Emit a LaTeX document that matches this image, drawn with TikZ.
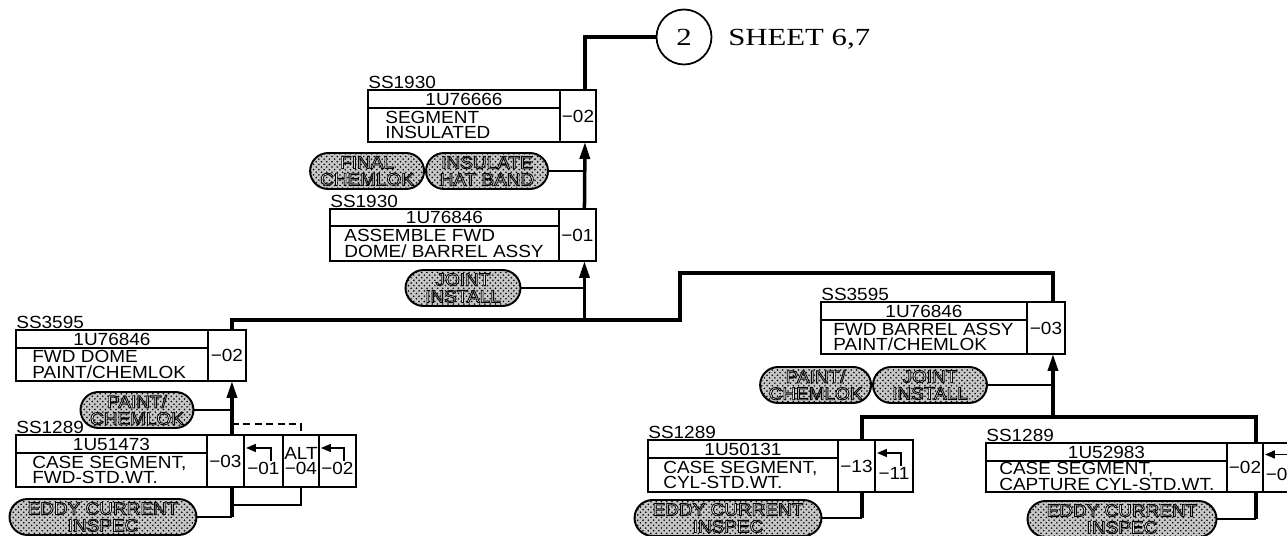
\documentclass[tikz,border=0pt]{standalone}
\usepackage{fontspec}
\setmainfont{Liberation Serif}
\setsansfont{Liberation Sans}
\newfontfamily\sheetfont{Liberation Serif}[FakeStretch=1.25]
\newfontfamily\boxfont{Liberation Sans}[FakeStretch=1.08]
\usepackage{tikz}
\usetikzlibrary{arrows.meta,positioning,shapes.misc,patterns,calc}

\newcommand{\hollowtext}[1]{\special{pdf:literal direct 2 Tr 0.5 w 0 G 1 g}#1\special{pdf:literal direct 0 Tr 0 g}}

\begin{document}
\begin{tikzpicture}[
  x=0.02cm, y=-0.02cm,
  node distance=0pt,
  pnrow/.style={rectangle, draw, line width=1.1pt, outer sep=0pt, inner sep=0pt, anchor=north west, minimum height=0.36cm, font=\boxfont\fontsize{10}{10}\selectfont},
  descrow/.style={rectangle, draw, line width=1.1pt, outer sep=0pt, inner sep=0pt, minimum height=0.68cm},
  desctext/.style={anchor=west, align=left, inner sep=0pt, font=\boxfont\fontsize{10}{8.7}\selectfont},
  numcell/.style={rectangle, draw, line width=1.1pt, outer sep=0pt, inner sep=0pt, anchor=north west, minimum width=0.74cm, minimum height=1.04cm, align=center, font=\boxfont\fontsize{10}{9}\selectfont},
  celltext/.style={inner sep=0pt, font=\boxfont\fontsize{10}{10}\selectfont},
  sslabel/.style={anchor=base west, inner sep=0pt, font=\boxfont\fontsize{10}{10}\selectfont},
  opbox/.style={rounded rectangle, draw, line width=1.1pt, minimum height=0.72cm, inner sep=0pt, align=center, preaction={fill=gray!45}, pattern=crosshatch dots, font=\boxfont\fontsize{10}{9.6}\selectfont},
  trunk/.style={line width=2pt},
  feed/.style={line width=0.9pt},
  uparrow/.style={line width=2pt, -{Triangle[length=0.34cm, width=0.2cm]}},
  elbow/.style={line width=0.9pt, -{Triangle[length=0.2cm, width=0.16cm]}}
]
\useasboundingbox (0,0) rectangle (1287,536);
\clip (0,0) rectangle (1287,536);

\node[circle, draw, line width=1pt, minimum size=1.1cm, inner sep=0pt, font=\sheetfont\fontsize{14}{14}\selectfont] (sheetRef) at (684,37) {2};
\node[anchor=base west, inner sep=0pt, font=\sheetfont\fontsize{14}{14}\selectfont] (sheetTxt) at (728,46) {SHEET 6,7};

\node[pnrow, minimum width=3.84cm] (segPN) at (368,90) {1U76666};
\node[descrow, minimum width=3.84cm, below=of segPN] (segD) {};
\node[desctext] (segT) at ([xshift=0.34cm]segD.west) {SEGMENT\\INSULATED};
\node[numcell, minimum width=0.72cm] (segS) at (segPN.north east) {−02};
\node[sslabel] (segSS) at ([yshift=1pt]segPN.north west) {SS1930};
\node[opbox, minimum width=2.44cm] (hatOp) at (487,171) {\hollowtext{INSULATE\\HAT BAND}};
\node[opbox, minimum width=2.28cm, left=of hatOp] (finalOp) {\hollowtext{FINAL\\CHEMLOK}};

\node[pnrow, minimum width=4.58cm, minimum height=0.34cm] (asmPN) at (330,209) {1U76846};
\node[descrow, minimum width=4.58cm, minimum height=0.70cm, below=of asmPN] (asmD) {};
\node[desctext] (asmT) at ([xshift=0.28cm]asmD.west) {ASSEMBLE FWD\\DOME/ BARREL ASSY};
\node[numcell] (asmS) at (asmPN.north east) {−01};
\node[sslabel] (asmSS) at ([yshift=1pt]asmPN.north west) {SS1930};
\node[opbox, minimum width=2.3cm] (jointOp) at (463,288) {\hollowtext{JOINT\\INSTALL}};

\node[pnrow, minimum width=3.84cm] (domePN) at (16,330) {1U76846};
\node[descrow, minimum width=3.84cm, minimum height=0.66cm, below=of domePN] (domeD) {};
\node[desctext] (domeT) at ([xshift=0.32cm]domeD.west) {FWD DOME\\PAINT/CHEMLOK};
\node[numcell, minimum width=0.76cm, minimum height=1.02cm] (domeS) at (domePN.north east) {−02};
\node[sslabel] (domeSS) at ([yshift=1pt]domePN.north west) {SS3595};
\node[opbox, minimum width=2.26cm] (paintOpL) at (137,410) {\hollowtext{PAINT/\\CHEMLOK}};

\node[pnrow, minimum width=3.82cm] (fwdPN) at (16,435) {1U51473};
\node[descrow, minimum width=3.82cm, below=of fwdPN] (fwdD) {};
\node[desctext] (fwdT) at ([xshift=0.32cm]fwdD.west) {CASE SEGMENT,\\FWD-STD.WT.};
\node[numcell] (fwdC0) at (fwdPN.north east) {−03};
\node[numcell, minimum width=0.78cm] (fwdC1) at (fwdC0.north east) {};
\node[celltext] (fwdC1t) at ([yshift=-0.14cm]fwdC1.center) {−01};
\node[numcell, minimum width=0.72cm] (fwdAlt) at (fwdC1.north east) {ALT\\−04};
\node[numcell] (fwdC2) at (fwdAlt.north east) {};
\node[celltext] (fwdC2t) at ([yshift=-0.14cm]fwdC2.center) {−02};
\node[sslabel] (fwdSS) at ([yshift=1pt]fwdPN.north west) {SS1289};
\node[opbox, minimum width=3.74cm] (eddyOpL) at (103,517) {\hollowtext{EDDY CURRENT\\INSPEC}};

\node[pnrow, minimum width=4.12cm] (barPN) at (821,302) {1U76846};
\node[descrow, minimum width=4.12cm, below=of barPN] (barD) {};
\node[desctext] (barT) at ([xshift=0.24cm]barD.west) {FWD BARREL ASSY\\PAINT/CHEMLOK};
\node[numcell, minimum width=0.76cm] (barS) at (barPN.north east) {−03};
\node[sslabel] (barSS) at ([yshift=1pt]barPN.north west) {SS3595};
\node[opbox, minimum width=2.28cm] (jointOpR) at (930,385) {\hollowtext{JOINT\\INSTALL}};
\node[opbox, minimum width=2.22cm, left=of jointOpR] (paintOpR) {\hollowtext{PAINT/\\CHEMLOK}};

\node[pnrow, minimum width=3.8cm] (cylPN) at (648,440) {1U50131};
\node[descrow, minimum width=3.8cm, below=of cylPN] (cylD) {};
\node[desctext] (cylT) at ([xshift=0.3cm]cylD.west) {CASE SEGMENT,\\CYL-STD.WT.};
\node[numcell] (cylC0) at (cylPN.north east) {−13};
\node[numcell, minimum width=0.76cm] (cylC1) at (cylC0.north east) {};
\node[celltext] (cylC1t) at ([yshift=-0.14cm]cylC1.center) {−11};
\node[sslabel] (cylSS) at ([yshift=1pt]cylPN.north west) {SS1289};
\node[opbox, minimum width=3.74cm] (eddyOpM) at (728,518) {\hollowtext{EDDY CURRENT\\INSPEC}};

\node[pnrow, minimum width=4.82cm] (capPN) at (986,443) {1U52983};
\node[descrow, minimum width=4.82cm, minimum height=0.62cm, below=of capPN] (capD) {};
\node[desctext] (capT) at ([xshift=0.26cm]capD.west) {CASE SEGMENT,\\CAPTURE CYL-STD.WT.};
\node[numcell, minimum width=0.72cm, minimum height=0.98cm] (capC0) at (capPN.north east) {−02};
\node[numcell, minimum height=0.98cm] (capC1) at (capC0.north east) {};
\node[celltext, anchor=west] (capC1t) at ([xshift=0.05cm, yshift=-0.14cm]capC1.west) {−0};
\node[sslabel] (capSS) at ([yshift=1pt]capPN.north west) {SS1289};
\node[opbox, minimum width=3.78cm] (eddyOpR) at (1122,519) {\hollowtext{EDDY CURRENT\\INSPEC}};

\coordinate (segIn) at ([xshift=0.14cm]segS.south);
\coordinate (asmIn) at ([xshift=0.14cm]asmS.south);
\coordinate (domeIn) at ([xshift=0.1cm]domeS.south);
\coordinate (barIn) at ([xshift=0.14cm]barS.south);
\coordinate (cylX) at ([xshift=0.11cm]cylC0.south);
\coordinate (capX) at ([xshift=0.22cm]capC0.south);
\coordinate (stepLo) at (680,320);
\coordinate (stepHi) at (680,273);
\path (fwdC0.north -| domeIn) ++(0,-11) coordinate (altTie);
\path (fwdC0.south -| domeIn) ++(0,18) coordinate (altLow);
\path (cylC0.north -| cylX) ++(0,-23) coordinate (lowBus);

\draw[trunk] (sheetRef.west) -| (segIn |- segS.north);
\draw[uparrow] (asmIn |- asmS.north) -- (segIn);
\draw[feed] (hatOp.east) -- (hatOp.east -| segIn);

\draw[trunk] (domeIn |- domeS.north) |- (stepLo) -- (stepHi) -| (barIn |- barS.north);
\draw[uparrow] (asmIn |- stepLo) -- (asmIn);
\draw[feed] (jointOp.east) -- (jointOp.east -| asmIn);

\draw[uparrow] (domeIn |- fwdC0.north) -- (domeIn);
\draw[feed] (paintOpL.east) -- (paintOpL.east -| domeIn);
\draw[line width=1.2pt, dash pattern=on 4pt off 2.5pt] (altTie) -| (fwdAlt.north);
\draw[feed] (fwdAlt.south) |- (altLow);
\draw[trunk] (domeIn |- fwdC0.south) -- (domeIn |- eddyOpL.east);
\draw[feed] (eddyOpL.east) -- (eddyOpL.east -| domeIn);
\draw[elbow] ([xshift=-0.24cm]fwdC1.east) |- ([xshift=0.04cm, yshift=0.26cm]fwdC1.west);
\draw[elbow] ([xshift=-0.24cm]fwdC2.east) |- ([xshift=0.04cm, yshift=0.26cm]fwdC2.west);

\draw[trunk] (cylX |- cylC0.north) |- (capX |- lowBus) -- (capX |- capC0.north);
\draw[uparrow] (barIn |- lowBus) -- (barIn);
\draw[feed] (jointOpR.east) -- (jointOpR.east -| barIn);
\draw[trunk] (cylX) -- (cylX |- eddyOpM.east);
\draw[feed] (eddyOpM.east) -- (eddyOpM.east -| cylX);
\draw[elbow] ([xshift=-0.24cm]cylC1.east) |- ([xshift=0.04cm, yshift=0.26cm]cylC1.west);
\draw[trunk] (capX) -- (capX |- eddyOpR.east);
\draw[feed] (eddyOpR.east) -- (eddyOpR.east -| capX);
\draw[elbow] ([xshift=-0.24cm]capC1.east) |- ([xshift=0.04cm, yshift=0.26cm]capC1.west);

\end{tikzpicture}
\end{document}
